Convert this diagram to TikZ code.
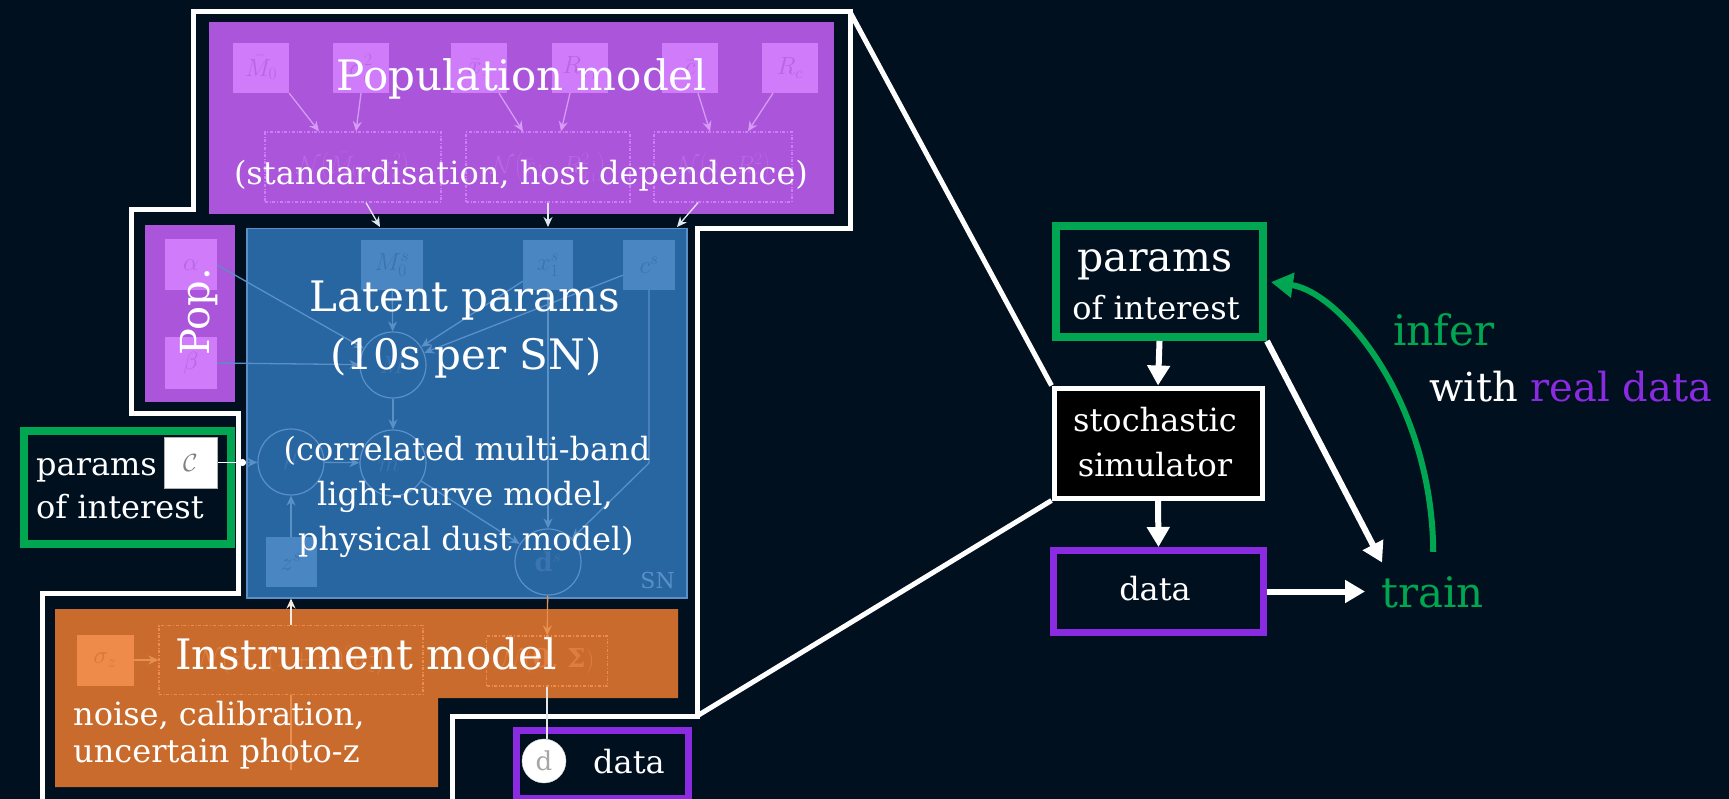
\documentclass[tikz,border=0pt]{standalone}
\usepackage{fontspec}
\setmainfont{DejaVu Serif}
\usetikzlibrary{arrows.meta}
\definecolor{bg}{HTML}{01101F}
\definecolor{popc}{HTML}{AB55DA}
\definecolor{popsq}{HTML}{CF7BFA}
\definecolor{poptx}{HTML}{B866E4}
\definecolor{popln}{HTML}{D69BF5}
\definecolor{blc}{HTML}{2866A2}
\definecolor{blsq}{HTML}{4A86C2}
\definecolor{bltx}{HTML}{3B74AE}
\definecolor{blln}{HTML}{5A90C8}
\definecolor{orc}{HTML}{C96B2D}
\definecolor{orsq}{HTML}{EE8B4B}
\definecolor{orln}{HTML}{E8904F}
\definecolor{grn}{HTML}{00A651}
\definecolor{prp}{HTML}{8A2BE2}
\begin{document}
\begin{tikzpicture}[x=1pt,y=-1pt,
  wline/.style={draw=white, line width=5pt, line join=miter},
  warr/.style={draw=white, line width=6pt, -{Triangle[length=20pt,width=22pt]}},
  big/.style={font=\fontsize{42}{48}\selectfont, text=white, inner sep=0pt},
  body/.style={font=\fontsize{32}{40}\selectfont, text=white, inner sep=0pt},
  sq/.style={fill=#1, inner sep=0pt, minimum width=56pt, minimum height=50pt, font=\fontsize{26}{28}\selectfont},
  circ/.style={circle, draw=blln, line width=1.2pt, minimum size=66pt, inner sep=0pt, text=bltx, font=\fontsize{26}{28}\selectfont},
  fedge/.style={draw=#1, line width=1.3pt, -{Stealth[length=10pt,width=9pt]}},
  dbox/.style={draw=#1, dash dot, line width=1.3pt, inner sep=0pt, font=\fontsize{26}{28}\selectfont},
  box/.style={anchor=north west, inner sep=0pt}
]
\useasboundingbox (0,0) rectangle (1729,799);
\fill[bg] (0,0) rectangle (1729,799);

% ---------- white outline of the zoomed region ----------
\coordinate (oc1) at (850,12);
\coordinate (oc2) at (697,716);
\draw[wline] (42,810) -- (42,593) -- (238,593) -- (238,413) -- (131,413) -- (131,210)
  -- (193,210) -- (193,12) -- (oc1) -- (850,229) -- (697,229) -- (oc2) -- (452,716) -- (452,810);

% ---------- population model ----------
\node[box, fill=popc, minimum width=625pt, minimum height=192pt] (popm) at (209,22) {};
\node[sq=popsq, text=poptx] (pm0) at (261,68) {$\bar M_0$};
\node[sq=popsq, text=poptx] (psig) at (361,68) {$\sigma_\epsilon^2$};
\node[sq=popsq, text=poptx] (pxb) at (479,68) {$\bar x_1$};
\node[sq=popsq, text=poptx] (prx) at (580,68) {$R_{x_1}$};
\node[sq=popsq, text=poptx] (pcb) at (690,68) {$\bar c$};
\node[sq=popsq, text=poptx] (prc) at (790,68) {$R_c$};
\node[dbox=popsq, text=poptx, minimum width=176pt, minimum height=70pt] (pd1) at (353,167) {$\mathcal N\!\left(\bar M_0,\;\sigma_\epsilon^2\right)$};
\node[dbox=popsq, text=poptx, minimum width=164pt, minimum height=70pt] (pd2) at (548,167) {$\mathcal N\!\left(\bar x_1,\;R_{x_1}^2\right)$};
\node[dbox=popsq, text=poptx, minimum width=138pt, minimum height=70pt] (pd3) at (723,167) {$\mathcal N\!\left(\bar c,\;R_c^2\right)$};
\draw[fedge=popln] (pm0.south east) -- ([xshift=-34pt]pd1.north);
\draw[fedge=popln] (psig.south) -- ([xshift=3pt]pd1.north);
\draw[fedge=popln] ([xshift=20pt]pxb.south) -- ([xshift=-25pt]pd2.north);
\draw[fedge=popln] ([xshift=-10pt]prx.south) -- ([xshift=13pt]pd2.north);
\draw[fedge=popln] ([xshift=8pt]pcb.south) -- ([xshift=-13pt]pd3.north);
\draw[fedge=popln] ([xshift=-17pt]prc.south) -- ([xshift=25pt]pd3.north);

% ---------- small population box ----------
\node[box, fill=popc, minimum width=90pt, minimum height=177pt] (pops) at (145,225) {};
\node[sq=popsq, text=poptx, minimum width=52pt, minimum height=51pt] (palpha) at (191,265) {$\alpha$};
\node[sq=popsq, text=poptx, minimum width=52pt, minimum height=51pt] (pbeta) at (191,363) {$\beta$};

% ---------- latent params ----------
\node[box, fill=blc, draw=blln, line width=1.5pt, minimum width=440pt, minimum height=369pt] (blue) at (246,228) {};
\coordinate (a1) at (380,227);
\coordinate (a2) at (548,227);
\coordinate (a3) at (677,227);
\draw[draw=white!85!blc, line width=1.3pt, -{Stealth[length=10pt,width=9pt]}] ([xshift=13pt]pd1.south) -- (a1);
\draw[draw=white!85!blc, line width=1.3pt, -{Stealth[length=10pt,width=9pt]}] (pd2.south) -- (a2);
\draw[draw=white!85!blc, line width=1.3pt, -{Stealth[length=10pt,width=9pt]}] ([xshift=-25pt]pd3.south) -- (a3);
\node[sq=blsq, text=bltx, minimum width=62pt] (bm0) at (392,265) {$M_0^s$};
\node[sq=blsq, text=bltx, minimum width=50pt] (bx) at (548,265) {$x_1^s$};
\node[sq=blsq, text=bltx, minimum width=52pt] (bc) at (649,265) {$c^s$};
\node[circ] (cM) at (393,365) {$M$};
\node[circ] (cm) at (393,463) {$m^s$};
\node[circ] (cmu) at (291,462) {$\mu$};
\node[circ] (cd) at (548,562) {\textbf{d}$^s$};
\node[sq=blsq, text=bltx, minimum width=51pt] (bz) at (291,562) {$z^s$};
\draw[fedge=blln] (palpha.east) -- (cM);
\draw[fedge=blln] (pbeta.east) -- (cM);
\draw[fedge=blln] (bm0) -- (cM);
\draw[fedge=blln] (bx) -- (cM);
\draw[fedge=blln] (bc) -- (cM);
\draw[fedge=blln] (cM) -- (cm);
\draw[fedge=blln] (cmu) -- (cm);
\draw[fedge=blln] (cm) -- (cd);
\draw[fedge=blln] (bx) -- (cd);
\draw[fedge=blln] (bc) -- (bc |- cm) -- (cd);
\draw[fedge=blln] (bz) -- (cmu);
\node[body, anchor=base east, text=blln, font=\fontsize{22}{24}\selectfont] (sn) at (675,588) {SN};

% ---------- left params of interest ----------
\node[box, fill=bg, draw=grn, line width=8pt, minimum width=207pt, minimum height=113pt] (gl) at (20,427) {};
\node[fill=white, draw=gray!60, line width=1pt, minimum width=53pt, minimum height=51pt, inner sep=0pt, text=gray, font=\fontsize{28}{30}\selectfont] (cbox) at (190.5,462.5) {$\mathcal C$};
\coordinate (cin) at (246,462.5);
\draw[white, line width=1.5pt, -{Circle[length=7pt]}] (cbox.east) -- (cin);
\draw[fedge=blln] (cin) -- (cmu);
\node[body, anchor=base west] (glt1) at (36,475) {params};
\node[body, anchor=base west] (glt2) at (36,518) {of interest};

% ---------- instrument model ----------
\fill[orc] (55,609) -- (678,609) -- (678,698) -- (438,698) -- (438,787) -- (55,787) -- cycle;
\node[sq=orsq, text=orc!60!orsq, minimum width=57pt, minimum height=51pt] (osz) at (105,660) {$\sigma_z$};
\node[dbox=orsq, text=orc!40!orsq, minimum width=264pt, minimum height=69pt] (od1) at (291,660) {$\mathcal N\!\left(z_s,\;(1+z_s)^2\sigma_z^2\right)$};
\node[dbox=orsq, text=orc!40!orsq, minimum width=121pt, minimum height=50pt] (od2) at (547,661) {$\mathcal N($\textbf{0}, \textbf{Σ}$)$};
\draw[fedge=orln] (osz) -- (od1);
\draw[draw=white!85!orc, line width=1.3pt, -{Stealth[length=10pt,width=9pt]}] (od1.north -| bz) -- (bz.south |- blue.south);
\draw[fedge=orln] (cd) -- (od2);
\draw[orln, line width=1.3pt] (od1.south -| bz) -- (291,770);

% ---------- bottom data ----------
\node[box, fill=bg, draw=prp, line width=7pt, minimum width=172pt, minimum height=68pt] (bd) at (512.5,726.5) {};
\node[circle, fill=white, draw=gray!40, minimum size=44pt, inner sep=0pt, text=gray!70, font=\fontsize{26}{28}\selectfont] (dcirc) at (544,761) {d};
\draw[white!80!gray, line width=1.3pt] (od2) -- (dcirc.north -| od2);
\node[body, anchor=base west] (bdt) at (593,773) {data};

% ---------- right flow ----------
\node[box, fill=bg, draw=grn, line width=8pt, minimum width=207pt, minimum height=111pt] (rp) at (1052,222) {};
\node[body, anchor=base, font=\fontsize{41}{44}\selectfont] (rpt1) at (1155,272) {params};
\node[body, anchor=base] (rpt2) at (1156,320) {of interest};
\node[box, fill=black, draw=white, line width=5pt, minimum width=208pt, minimum height=110pt] (sim) at (1051.5,385.5) {};
\node[body, anchor=base] (simt1) at (1155,431) {stochastic};
\node[body, anchor=base] (simt2) at (1155,476) {simulator};
\node[box, fill=bg, draw=prp, line width=7pt, minimum width=210pt, minimum height=82pt] (rd) at (1050,547) {};
\node[body, anchor=base] (rdt) at (1155,600) {data};
\node[big, anchor=base west, text=grn] (train) at (1381,607) {train};
\node[big, anchor=base west, text=grn] (infer) at (1393,345) {infer};
\node[body, anchor=base west, font=\fontsize{40}{44}\selectfont] (withd) at (1429,402) {with \textcolor{prp}{real data}};

\draw[wline] (oc1) -- (sim.north west);
\draw[wline] (oc2) -- (sim.south west);
\draw[warr] (rp.south) -- (sim.north);
\draw[warr] (sim.south) -- (rd.north);
\draw[warr, shorten >=16pt] (rd.east) -- (rd.east -| train.west);
\draw[warr, shorten >=15pt] (rp.south east) -- ([xshift=8pt]train.north west);
\draw[grn, line width=6pt, -{Triangle[length=22pt,width=24pt]}, shorten <=24pt, shorten >=4pt]
  ([xshift=1pt]train.north) .. controls (1432,400) and (1340,292) .. (rp.east);

% ---------- titles ----------
\node[big, anchor=base] (t1) at (522,91) {Population model};
\node[body, anchor=base] (t2) at (521,185) {(standardisation, host dependence)};
\node[big, anchor=base] (t3) at (465,312) {Latent params};
\node[big, anchor=base] (t4) at (466,370) {(10s per SN)};
\node[body, anchor=base] (t5) at (467,460) {(correlated multi-band};
\node[body, anchor=base] (t6) at (465,505) {light-curve model,};
\node[body, anchor=base] (t7) at (466,550) {physical dust model)};
\node[big, anchor=base, rotate=90, font=\fontsize{40}{44}\selectfont] (t8) at (209,312) {Pop.};
\node[big, anchor=base] (t9) at (366,669) {Instrument model};
\node[body, anchor=base west] (t10) at (73,725) {noise, calibration,};
\node[body, anchor=base west] (t11) at (73,762) {uncertain photo-z};
\end{tikzpicture}
\end{document}
